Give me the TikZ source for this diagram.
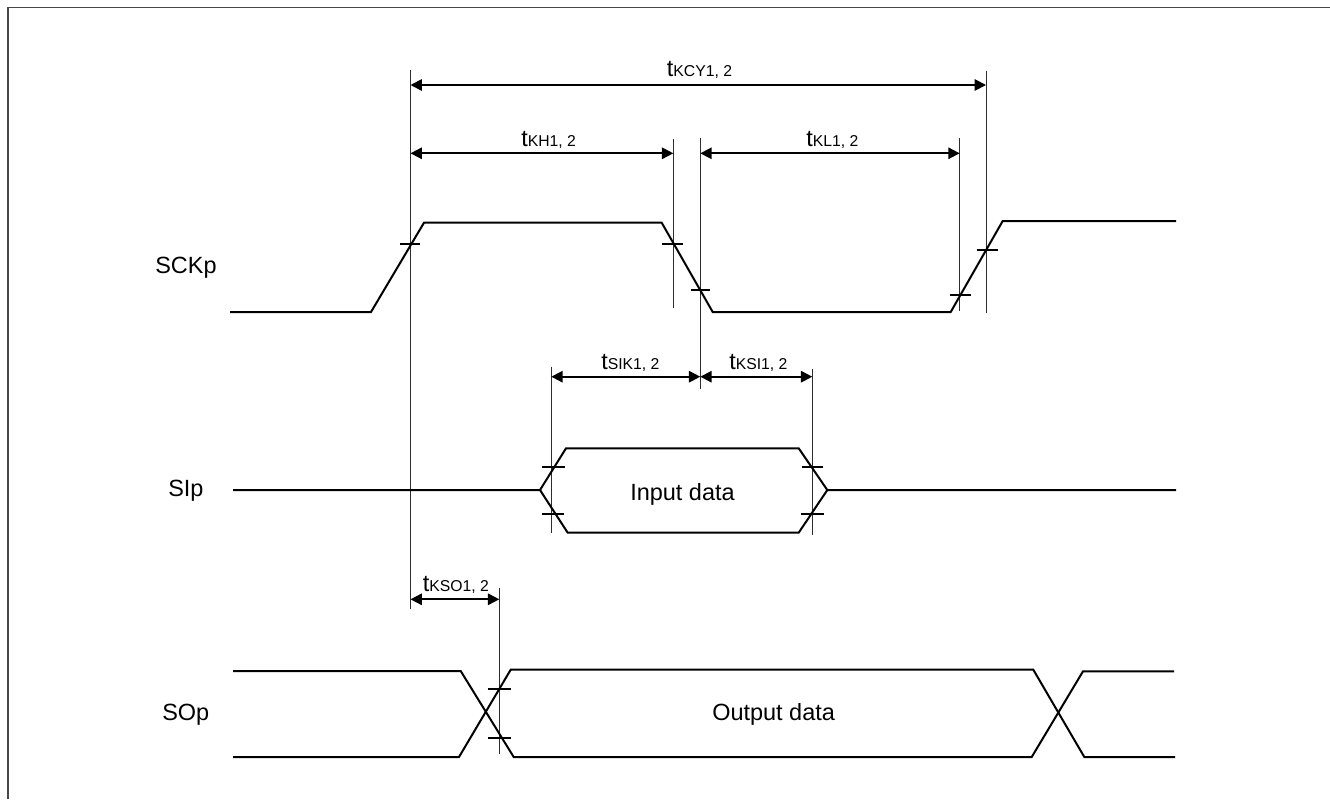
\documentclass[tikz,border=0pt]{standalone}
\usepackage{fontspec}
\setmainfont{Liberation Sans}
\usetikzlibrary{arrows.meta}
\definecolor{framegray}{RGB}{70,70,70}
\definecolor{extgray}{RGB}{45,45,45}
\newcommand{\sigfont}{\fontsize{17.6}{20}\selectfont}
\newcommand{\tlabel}[1]{{\fontsize{17.6}{20}\selectfont t}{\fontsize{11.8}{14}\selectfont #1}}
\tikzset{
  signal/.style={line width=1.5pt,black,line join=miter},
  tickmark/.style={line width=1.3pt,black},
  extline/.style={line width=0.75pt,extgray},
  dimline/.style={line width=1.4pt,black,{Triangle[length=8.5pt,width=8.5pt]}-{Triangle[length=8.5pt,width=8.5pt]}},
  lbl/.style={inner sep=0pt,anchor=base west},
  sig/.style={inner sep=0pt,anchor=base west,font=\sigfont}
}
\begin{document}
\begin{tikzpicture}[x=0.75pt,y=-0.75pt]
\useasboundingbox (0,0) rectangle (1330,799);
% frame
\draw[line width=1.2pt,framegray] (7.7,799) -- (7.7,7.7) -- (1330,7.7);
% arrow ends
\coordinate (a1) at (410.5,85);   \coordinate (a2) at (986,85);
\coordinate (b1) at (410.5,153.3);\coordinate (b2) at (673.3,153.3);
\coordinate (c1) at (700.3,153.3);\coordinate (c2) at (959.7,153.3);
\coordinate (d1) at (551.3,376.7);\coordinate (d2) at (700.3,376.7);
\coordinate (e1) at (700.3,376.7);\coordinate (e2) at (812.3,376.7);
\coordinate (f1) at (410.5,599.3);\coordinate (f2) at (499.3,599.3);
% extension lines
\draw[extline] (410.5,70) -- (410.5,609);
\draw[extline] (673.3,139) -- (673.3,308);
\draw[extline] (700.3,138) -- (700.3,389);
\draw[extline] (986,70.7) -- (986,312.7);
\draw[extline] (959.7,138) -- (959.7,311);
\draw[extline] (551.3,367) -- (551.3,533);
\draw[extline] (812.3,369) -- (812.3,535);
\draw[extline] (499.3,588) -- (499.3,754);
% dimension arrows
\draw[dimline] (a1) -- (a2);
\draw[dimline] (b1) -- (b2);
\draw[dimline] (c1) -- (c2);
\draw[dimline] (d1) -- (d2);
\draw[dimline] (e1) -- (e2);
\draw[dimline] (f1) -- (f2);
% SCK
\draw[signal] (230,312) -- (371,312) -- (424,222.7) -- (661.7,222.7) -- (712.7,312) -- (950.7,312) -- (1002.7,221) -- (1176,221);
% SI
\draw[signal] (233,490) -- (540,490) -- (566,448.3) -- (798.7,448.3) -- (827.3,490) -- (1176,490);
\draw[signal] (540,490) -- (567.7,532.7) -- (798.7,532.7) -- (827.3,490);
% SO
\draw[signal] (233,671) -- (460.7,671) -- (513.7,757) -- (1031.7,757) -- (1083,671.3) -- (1174,671.3);
\draw[signal] (233,757) -- (459,757) -- (510.7,669.7) -- (1033.3,669.7) -- (1084.3,757) -- (1175,757);
% ticks
\foreach \xa/\xb/\yy in {400/420/243.7,662/682.7/243.7,690.7/709.7/290.3,950/970.7/295.3,976.7/998.3/250,
  542/564.7/467,542/563.7/513.7,802/823.3/467,801/824/513.7,487.7/510.7/688.7,488.3/510.7/737.7}
  \draw[tickmark] (\xa,\yy) -- (\xb,\yy);
% labels
\node[lbl] (tkcy) at (666.7,76.7) {\tlabel{KCY1, 2}};
\node[lbl] (tkh) at (521,146) {\tlabel{KH1, 2}};
\node[lbl] (tkl) at (806,146) {\tlabel{KL1, 2}};
\node[lbl] (tsik) at (601,369.3) {\tlabel{SIK1, 2}};
\node[lbl] (tksi) at (729,369.3) {\tlabel{KSI1, 2}};
\node[lbl] (tkso) at (422.7,591) {\tlabel{KSO1, 2}};
\node[sig] (sck) at (155,273.3) {SCKp};
\node[sig] (si) at (168,496.7) {SIp};
\node[sig] (so) at (162,720.7) {SOp};
\node[sig] (ind) at (630,500) {Input data};
\node[sig] (outd) at (712,720.7) {Output data};
\end{tikzpicture}
\end{document}
